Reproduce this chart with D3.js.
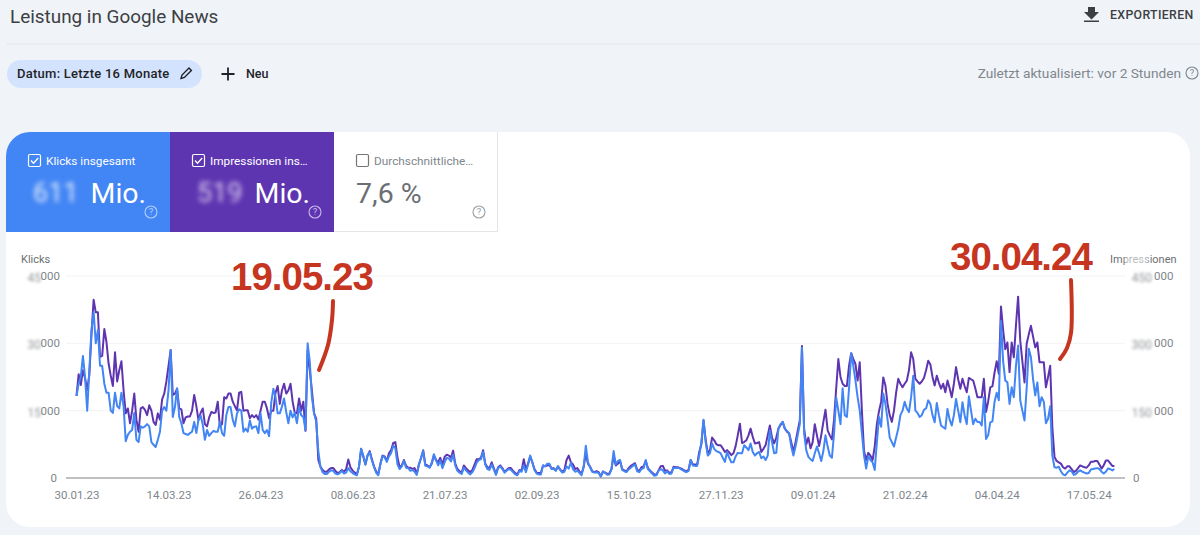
<!DOCTYPE html>
<html>
<head>
<meta charset="utf-8">
<script src="https://d3js.org/d3.v7.min.js"></script>
<style>
    body { margin: 0; background: #f0f4f9; overflow: hidden; }
    svg { display: block; font-family: Roboto, 'Noto Sans', sans-serif; }
    .axis path, .axis line { display: none; }
    .axis text { font-family: Roboto, sans-serif; font-size: 11.5px; fill: #80868b; }
    .note { font-family: 'Liberation Sans', Arial, sans-serif; font-weight: 700; font-size: 38.5px; letter-spacing: -1px; fill: #c5351f; }
    .hand { fill: none; stroke: #c5351f; stroke-width: 4px; stroke-linecap: round; stroke-linejoin: round; }
</style>
</head>
<body>
<svg id="page" width="1200" height="535"></svg>
<script>
// first day of the series
var startDate = "30.01.23";

// daily clicks, thousands (left axis)
var clicks = [
    18.3,21,22.5,27.2,22.5,15,24,33,37,30,
    33,25,25,21,19,19,15,14.5,19,16,
    15.5,19,16,8.2,9.6,10.3,10.7,14.5,8.5,8,
    11.5,11.2,11.5,12,11.5,8,7.4,6.9,8.5,10.3,
    15,15.8,15,19.5,28.5,13.6,15.8,20,13.6,12.2,
    10,9.8,9.6,10,10.3,12.5,10,13,13.9,11.9,
    8.5,10.7,9.4,10,10.5,10.3,10.3,12.5,10,9.4,
    14,15.8,15.8,13,11.5,14.4,15.3,15,10.3,11,
    10.3,12.8,11,11.4,11.5,10,14.4,10.7,10,10.7,
    9.3,16.8,19.9,18,14.4,14.4,15.9,17.7,14.7,12.2,
    15,13.5,14.5,12.2,15.8,14,13.6,10.7,30,26,
    18,14.5,12.5,6,2.5,1.3,.9,.9,1.4,1.7,
    1.6,1,.8,1.1,1.6,1,1.2,2.2,1.5,1.1,
    .8,.6,2.5,6.5,5,3,5,5.8,4,2.5,
    1.2,.6,3,4.9,4.6,3.6,4.8,5.5,7.2,6.6,
    3,2,2.6,3.8,2.3,2.2,1.6,1.8,1.4,.7,
    3,4.5,6,2.7,2.6,2.3,3.4,5.3,4,2.8,
    3.9,2.2,3.5,4.5,4.3,3.7,5.2,2.8,1.6,1.2,
    .9,2.3,1.7,1.2,.8,1.3,2.2,3.4,4,4.2,
    5.8,3,2,1.8,3,1.9,.7,2.2,2.6,2,
    1.2,1.6,2,1.8,1.3,.8,.6,1.6,1.4,2.8,
    1.3,3,5,3.5,1.8,1,.8,.8,2.8,2.6,
    3.2,3.2,2,2,1.6,2.6,1.8,1.2,1.4,2.6,
    2.1,3.4,2,1.4,1.6,1.2,.6,2.5,7.2,3.5,
    2.4,1.4,1.2,1.3,1.1,.3,1.5,1.2,.7,.8,
    2,6,3,3.8,4,1.8,1.5,1.3,1.9,2.3,
    2.7,3,1.5,1.3,2,2.2,4,2,1.5,1,
    .5,.6,1.6,2,1.7,1,1.5,.9,1,2.3,
    2.2,2.3,2.1,1.8,1.5,1.3,1.6,4,2.8,2.7,
    2.7,5,8,13,8,5,5.5,7.7,6.5,6,
    5.8,5.5,4.5,3.6,5.8,4.5,3.5,3.5,4.8,5.6,
    5.5,5.5,7.3,6.8,6.2,7.7,5.8,5,5.5,5.8,
    4.4,4.8,4,5,10.6,8,5.5,5.6,11,12,
    12.5,11,10.5,10,7,5,7,9.5,12,29,
    10,6.2,4.7,4.2,3.8,5.5,7,5.5,3.8,6,
    9.5,7,5,4.5,10,17.9,15,12,20,14,
    13.6,20,27.8,25,21.7,18,15,10,5,2.1,
    4.9,4,3.5,1.8,8,13.6,11.4,18.8,16.5,13,
    9,8,7,9,11,14,15,17,15.5,14.7,
    18,22.8,15,14.5,13.6,14,15.2,15.5,17.3,16.5,
    14,12.4,16.7,14,11.7,11.3,11,15.4,13,11.7,
    14,17.6,15,12.4,16.9,14,12,18.2,15,12,
    13.2,12.5,12.5,11.7,18,8.7,9.5,12.4,12.6,17,
    19,17.3,35,26,21.7,21.3,16.5,20.2,18,25,
    29.5,17.3,15,12.8,20,28.8,26.9,22,18.4,21.3,
    16,18,17,12.2,13.2,16,5,2.4,2.3,2.5,
    1.5,.8,.6,1.2,1.7,1.5,.7,.9,1.4,1.7,
    1.4,1.2,1,1.1,1.9,2,2.1,2.2,2,1.4,
    1,1.4,2.1,2,1.7,2
];

// daily impressions, thousands (right axis)
var impressions = [
    183,231,207,240,222,196,230,320,397,369,
    369,270,272,332,303,255,228,205,280,215,
    240,260,195,144,155,122,150,188,130,103,
    155,158,152,140,162,150,125,118,144,130,
    175,188,215,250,285,185,188,199,155,153,
    122,135,137,137,150,185,160,129,145,155,
    120,115,135,147,145,146,170,115,120,180,
    177,188,188,170,160,151,190,192,150,151,
    151,133,140,135,140,130,150,170,170,155,
    133,150,150,190,205,165,195,210,188,195,
    210,170,145,144,177,150,170,105,285,240,
    195,144,133,40,25,18,14,14,19,22,
    22,16,11,13,18,14,20,41,24,17,
    12,8,25,65,48,30,50,60,42,26,
    15,8,32,50,48,38,55,62,78,80,
    45,24,28,40,27,23,23,20,22,9,
    30,44,62,30,28,24,32,50,40,35,
    45,30,47,52,50,45,61,32,20,15,
    12,28,22,17,13,18,30,42,42,45,
    62,32,24,22,35,22,9,24,28,22,
    14,18,22,22,16,11,8,18,17,42,
    18,32,48,35,20,12,11,11,28,26,
    28,29,21,22,17,26,19,14,18,40,
    50,35,30,20,22,15,9,25,55,32,
    25,15,13,15,13,4,14,12,9,10,
    20,50,28,32,37,20,17,15,22,27,
    30,33,18,16,24,26,38,22,17,12,
    8,8,17,26,27,16,17,12,12,25,
    24,24,22,20,17,15,18,40,30,30,
    29,58,75,128,85,55,62,90,84,75,
    73,73,66,58,62,57,51,55,71,95,
    121,78,80,84,95,110,92,77,78,80,
    58,65,73,95,117,90,77,90,110,118,
    125,110,103,99,80,58,80,105,128,294,
    110,75,90,66,80,120,95,71,95,125,
    152,106,95,86,130,200,265,225,210,205,
    205,250,278,265,254,217,258,150,60,40,
    56,50,40,70,120,149,170,224,206,165,
    140,125,150,190,221,210,202,210,217,240,
    280,265,221,215,210,215,223,240,261,253,
    225,206,228,212,199,210,191,217,200,180,
    210,247,220,199,221,205,191,223,220,217,
    200,180,180,180,221,147,170,202,204,235,
    260,232,382,330,287,302,236,302,269,340,
    404,306,260,213,299,320,339,315,291,302,
    258,258,258,202,225,250,113,47,38,35,
    32,24,21,26,26,20,13,16,22,28,
    26,24,23,28,36,36,38,38,30,21,
    28,39,39,33,27,27
];

var tickLabels = ["30.01.23","14.03.23","26.04.23","08.06.23","21.07.23","02.09.23","15.10.23","27.11.23","09.01.24","21.02.24","04.04.24","17.05.24"];
var leftTicks = [15, 30, 45];     // thousands, digits are blurred in the screenshot
var rightTicks = [150, 300, 450];
var notes = [
    {date: "19.05.23", x: 231, y: 290, hand: [[333,301],[332,320],[328,345],[319,370]]},
    {date: "30.04.24", x: 950, y: 270, hand: [[1071,280],[1071,333],[1067,348],[1060,359]]}
];

var parseDay = d3.utcParse("%d.%m.%y");
var formatDay = d3.utcFormat("%d.%m.%y");
var first = parseDay(startDate);
var days = clicks.map(function(d, i) { return d3.utcDay.offset(first, i); });

var svg = d3.select("#page");

// blur for the hidden numbers
var defs = svg.append("defs");
defs.append("filter").attr("id", "blurBig").attr("x", "-20%").attr("y", "-40%").attr("width", "140%").attr("height", "180%")
    .append("feGaussianBlur").attr("stdDeviation", 2.6);
defs.append("filter").attr("id", "blurSmall").attr("x", "-30%").attr("y", "-60%").attr("width", "160%").attr("height", "220%")
    .append("feGaussianBlur").attr("stdDeviation", 1.6);
defs.append("clipPath").attr("id", "cardClip")
    .append("rect").attr("x", 6).attr("y", 132).attr("width", 1184).attr("height", 395).attr("rx", 24);

// ---- page header ----
svg.append("text").attr("x", 10).attr("y", 23).attr("font-size", 18.9).attr("fill", "#3c4043").text("Leistung in Google News");
svg.append("line").attr("x1", 7).attr("x2", 1200).attr("y1", 44).attr("y2", 44).attr("stroke", "#dfe3e8").attr("stroke-width", 1.2);

// export icon + label
svg.append("path").attr("d", "M1088 7h7v5h4l-7.5 7.5L1084 12h4z M1084 20.5h15v1.6h-15z").attr("fill", "#3c4043");
svg.append("text").attr("x", 1110).attr("y", 19).attr("font-size", 12.3).attr("font-weight", 500).attr("letter-spacing", 0.35).attr("fill", "#3c4043").text("EXPORTIEREN");

// date chip
svg.append("rect").attr("x", 7).attr("y", 60).attr("width", 195).attr("height", 28).attr("rx", 14).attr("fill", "#d3e3fd");
svg.append("text").attr("x", 17).attr("y", 78).attr("font-size", 13).attr("font-weight", 500).attr("letter-spacing", 0.25).attr("fill", "#1f2328").text("Datum: Letzte 16 Monate");
svg.append("path").attr("d", "M181 78.5l1-3.4 7-7 2.4 2.4-7 7z").attr("fill", "none").attr("stroke", "#1f2328").attr("stroke-width", 1.4);

// "Neu"
svg.append("path").attr("d", "M228 67.5v13 M221.500 74h13").attr("stroke", "#1f2328").attr("stroke-width", 1.8).attr("fill", "none");
svg.append("text").attr("x", 246).attr("y", 78).attr("font-size", 12.5).attr("font-weight", 500).attr("fill", "#1f2328").text("Neu");

svg.append("text").attr("x", 1181).attr("y", 78).attr("text-anchor", "end").attr("font-size", 13.7).attr("fill", "#80868b").text("Zuletzt aktualisiert: vor 2 Stunden");

function helpIcon(cx, cy, color) {
    svg.append("circle").attr("cx", cx).attr("cy", cy).attr("r", 6).attr("fill", "none").attr("stroke", color).attr("stroke-width", 1.1);
    svg.append("text").attr("x", cx).attr("y", cy + 3.4).attr("text-anchor", "middle").attr("font-size", 9.5).attr("fill", color).text("?");
}
helpIcon(1192, 73, "#80868b");

// ---- card and metric tabs ----
svg.append("rect").attr("x", 6).attr("y", 132).attr("width", 1184).attr("height", 395).attr("rx", 24).attr("fill", "#fff");

var tabs = svg.append("g").attr("clip-path", "url(#cardClip)");
tabs.append("rect").attr("x", 6).attr("y", 132).attr("width", 164).attr("height", 100).attr("fill", "#4285f4");
tabs.append("rect").attr("x", 170).attr("y", 132).attr("width", 164).attr("height", 100).attr("fill", "#5e35b1");
svg.append("path").attr("d", "M497.500 132V231.500H334").attr("fill", "none").attr("stroke", "#e3e5e8");

function checkbox(x, y, color, checked) {
    svg.append("rect").attr("x", x + .5).attr("y", y + .5).attr("width", 12).attr("height", 12).attr("rx", 1.5)
        .attr("fill", "none").attr("stroke", color).attr("stroke-width", 1.2);
    if (checked) {
        svg.append("path").attr("d", "M" + (x + 3) + " " + (y + 6.5) + "l2.500 2.800 4.700-5.300")
            .attr("fill", "none").attr("stroke", color).attr("stroke-width", 1.3);
    }
}

function bigText(x, txt, color) {
    svg.append("text").attr("x", x).attr("y", 203).attr("font-size", 28.5).attr("fill", color).text(txt);
}

function smallText(x, txt, color) {
    svg.append("text").attr("x", x).attr("y", 165).attr("font-size", 11.8).attr("fill", color).text(txt);
}

checkbox(28, 154, "#fff", true);
smallText(46, "Klicks insgesamt", "#fff");
svg.append("text").attr("x", 33).attr("y", 202).attr("font-size", 27).attr("fill", "#fff").attr("opacity", .85).attr("filter", "url(#blurBig)").text("611");
bigText(90.5, "Mio.", "#fff");
helpIcon(151, 212, "#b3cefb");

checkbox(192, 154, "#fff", true);
smallText(210, "Impressionen ins…", "#fff");
svg.append("text").attr("x", 197).attr("y", 202).attr("font-size", 27).attr("fill", "#fff").attr("opacity", .75).attr("filter", "url(#blurBig)").text("519");
bigText(254.5, "Mio.", "#fff");
helpIcon(315, 212, "#c9b8e8");

checkbox(356, 154, "#757575", false);
smallText(374, "Durchschnittliche…", "#80868b");
bigText(356, "7,6 %", "#6b6f73");
helpIcon(479, 212, "#9aa0a6");

// ---- chart ----
var x = d3.scaleUtc().domain([first, days[days.length - 1]]).range([76.5, 1114.4]);
var yLeft = d3.scaleLinear().domain([0, 45]).range([478, 276]);
var yRight = d3.scaleLinear().domain([0, 450]).range([478, 276]);

svg.append("g").selectAll("line").data(leftTicks).join("line")
    .attr("x1", 66).attr("x2", 1125)
    .attr("y1", function(d) { return yLeft(d); }).attr("y2", function(d) { return yLeft(d); })
    .attr("stroke", "#f1f3f4").attr("stroke-width", 1);

svg.append("line").attr("x1", 66).attr("x2", 1125).attr("y1", 478).attr("y2", 478).attr("stroke", "#a8abae").attr("stroke-width", 1.4);

// x axis
svg.append("g").attr("class", "axis").attr("transform", "translate(0,485.5)")
    .call(d3.axisBottom(x).tickValues(tickLabels.map(parseDay)).tickFormat(formatDay).tickSize(0).tickPadding(5));

// axis titles
svg.append("text").attr("x", 21).attr("y", 263).attr("font-size", 11).attr("fill", "#6b6f73").text("Klicks");
svg.append("text").attr("x", 1110).attr("y", 263).attr("font-size", 11).attr("fill", "#6b6f73").text("Impressionen");
// smudge over the title, left from the blurring of the screenshot
svg.append("rect").attr("x", 1125).attr("y", 256).attr("width", 24).attr("height", 9).attr("fill", "#fff").attr("opacity", .55).attr("filter", "url(#blurSmall)");

// y labels: the leading digits are blurred out in the screenshot
var leftLabels = svg.append("g").selectAll("g").data(leftTicks).join("g")
    .attr("transform", function(d) { return "translate(0," + (yLeft(d) + 4) + ")"; });
leftLabels.append("text").attr("x", 60).attr("text-anchor", "end").attr("font-size", 11.5).attr("fill", "#80868b").text("000");
leftLabels.append("text").attr("x", 41).attr("y", 2).attr("text-anchor", "end").attr("font-size", 12).attr("fill", "#8f9396")
    .attr("filter", "url(#blurSmall)").text(function(d) { return d; });

var rightLabels = svg.append("g").selectAll("g").data(rightTicks).join("g")
    .attr("transform", function(d) { return "translate(0," + (yRight(d) + 4) + ")"; });
rightLabels.append("text").attr("x", 1154).attr("font-size", 11.5).attr("fill", "#80868b").text("000");
rightLabels.append("text").attr("x", 1152).attr("y", 2).attr("text-anchor", "end").attr("font-size", 12).attr("fill", "#8f9396")
    .attr("filter", "url(#blurSmall)").text(function(d) { return d; });

svg.append("text").attr("x", 57).attr("y", 482).attr("text-anchor", "end").attr("font-size", 11.5).attr("fill", "#80868b").text("0");
svg.append("text").attr("x", 1133).attr("y", 482).attr("font-size", 11.5).attr("fill", "#80868b").text("0");

// the two lines, impressions underneath
var lineRight = d3.line()
    .x(function(d, i) { return x(days[i]); })
    .y(function(d) { return yRight(d); });
var lineLeft = d3.line()
    .x(function(d, i) { return x(days[i]); })
    .y(function(d) { return yLeft(d); });

svg.append("path").datum(impressions).attr("fill", "none").attr("stroke", "#5e35b1").attr("stroke-width", 2).attr("stroke-linejoin", "round").attr("d", lineRight);
svg.append("path").datum(clicks).attr("fill", "none").attr("stroke", "#4285f4").attr("stroke-width", 2).attr("stroke-linejoin", "round").attr("d", lineLeft);

// red annotations drawn on the screenshot
var curve = d3.line().curve(d3.curveCatmullRom);
notes.forEach(function(n) {
    svg.append("text").attr("class", "note").attr("x", n.x).attr("y", n.y).text(n.date);
    svg.append("path").attr("class", "hand").attr("d", curve(n.hand));
});
</script>
</body>
</html>
